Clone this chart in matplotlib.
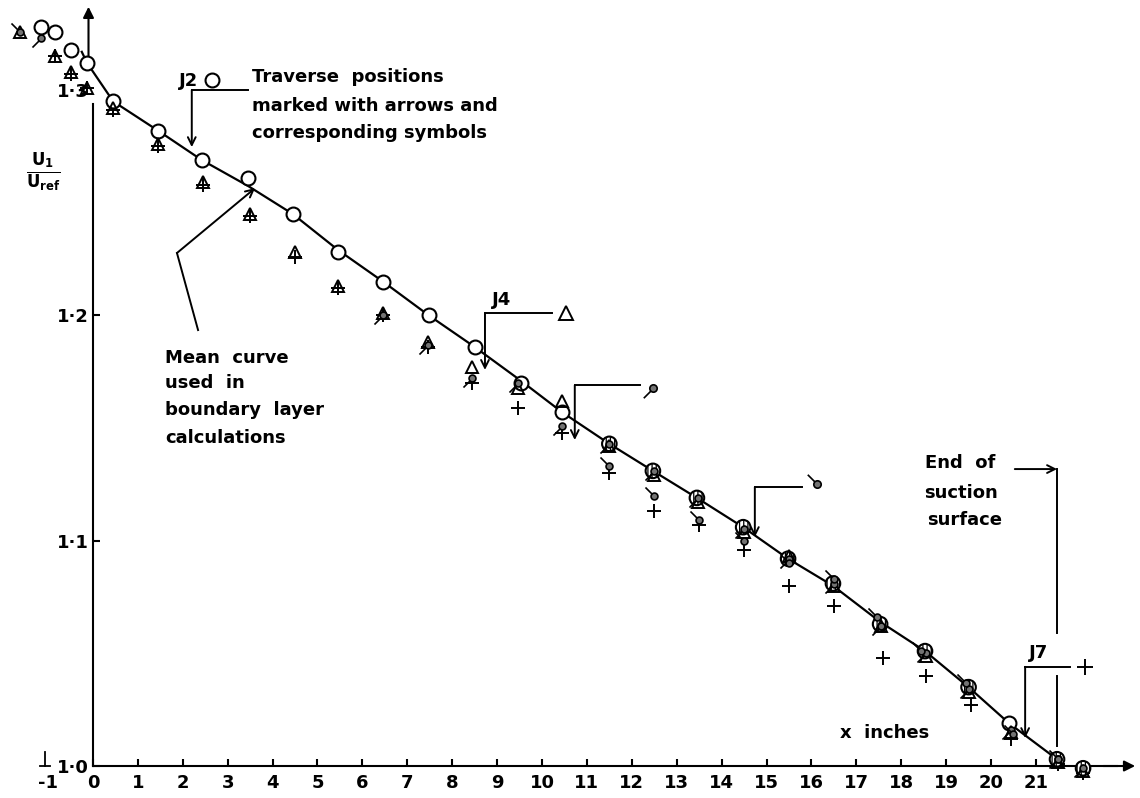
import matplotlib.pyplot as plt
from matplotlib.path import Path

# traverse J2 - open circles (the mean curve is drawn through these)
j2_x = [-1.15, -0.85, -0.5, -0.13, 0.45, 1.45, 2.42, 3.45, 4.45, 5.46, 6.46, 7.48, 8.5,
        9.53, 10.45, 11.5, 12.47, 13.45, 14.48, 15.48, 16.48, 17.53, 18.53, 19.5, 20.4,
        21.47, 22.05]
j2_y = [1.328, 1.326, 1.318, 1.312, 1.295, 1.282, 1.269, 1.261, 1.245, 1.228, 1.215, 1.200,
        1.186, 1.170, 1.157, 1.143, 1.131, 1.119, 1.106, 1.092, 1.081, 1.063, 1.051, 1.035,
        1.019, 1.003, 0.999]
# which J2 circles are drawn over by the other traverses (look hatched)
j2_hatched = [False] * 15 + [True] * 9 + [False, True, True]

# traverse J4 - triangles
j4_x = [-1.62, -0.85, -0.5, -0.13, 0.45, 1.45, 2.45, 3.5, 4.5, 5.45, 6.45, 7.45, 8.45,
        9.47, 10.45, 11.5, 12.5, 13.47, 14.5, 15.5, 16.5, 17.55, 18.55, 19.5, 20.45,
        21.5, 22.05]
j4_y = [1.326, 1.315, 1.308, 1.301, 1.292, 1.276, 1.259, 1.245, 1.228, 1.213, 1.201, 1.188,
        1.177, 1.168, 1.162, 1.142, 1.129, 1.117, 1.104, 1.093, 1.080, 1.062, 1.049, 1.033,
        1.015, 1.002, 0.998]

# traverse J5 - hatched circle, tail down-left
j5_x = [-1.15, 6.45, 7.45, 8.45, 9.47, 10.45, 11.5, 12.5, 13.47, 14.5, 15.5, 16.5, 17.55,
        18.55, 19.5, 20.45, 21.5, 22.05]
j5_y = [1.323, 1.200, 1.187, 1.172, 1.170, 1.151, 1.143, 1.131, 1.119, 1.105, 1.092, 1.081,
        1.062, 1.050, 1.034, 1.016, 1.003, 0.999]

# traverse J6 - hatched circle, tail up-left
j6_x = [-1.62, 11.5, 12.5, 13.5, 14.5, 15.5, 16.5, 17.45, 18.45, 19.45, 20.5, 21.5]
j6_y = [1.326, 1.133, 1.120, 1.109, 1.100, 1.090, 1.083, 1.066, 1.051, 1.037, 1.014, 1.003]

# traverse J7 - plus signs
j7_x = [-0.85, -0.5, -0.13, 0.45, 1.45, 2.45, 3.5, 4.5, 5.45, 6.45, 7.45, 8.45, 9.47, 10.45,
        11.5, 12.5, 13.5, 14.5, 15.5, 16.5, 17.6, 18.55, 19.55, 20.45, 21.5, 22.05]
j7_y = [1.315, 1.307, 1.301, 1.291, 1.275, 1.258, 1.244, 1.226, 1.212, 1.200, 1.186, 1.170,
        1.159, 1.148, 1.130, 1.113, 1.107, 1.096, 1.080, 1.071, 1.048, 1.040, 1.027, 1.012,
        1.001, 0.997]

# mean curve used in boundary layer calculations
curve_x = [-0.25, -0.13, 0.45, 1.45, 2.42, 3.45, 4.45, 5.46, 6.46, 7.48, 8.5, 9.53, 10.45,
           11.5, 12.47, 13.45, 14.48, 15.48, 16.48, 17.53, 18.53, 19.5, 20.4, 21.47]
curve_y = [1.317, 1.312, 1.295, 1.282, 1.269, 1.2575, 1.245, 1.229, 1.215, 1.200, 1.186,
           1.171, 1.157, 1.143, 1.131, 1.119, 1.106, 1.092, 1.080, 1.064, 1.051, 1.035,
           1.019, 1.003]

# traverse key: corner of the bracket, end of the horizontal, arrow tip, symbol
keys = {
    'J2': dict(corner=(2.2, 1.300), end=3.45, tip=1.2747, sym=(2.65, 1.3045)),
    'J4': dict(corner=(8.73, 1.201), end=10.22, tip=1.1758, sym=(10.53, 1.201)),
    'J5': dict(corner=(10.73, 1.169), end=12.18, tip=1.1447, sym=(12.47, 1.168)),
    'J6': dict(corner=(14.74, 1.1238), end=15.79, tip=1.1016, sym=(16.12, 1.125)),
    'J7': dict(corner=(20.76, 1.044), end=21.76, tip=1.0124, sym=(22.09, 1.044)),
}

xticks = list(range(-1, 22))
yticks = [1.0, 1.1, 1.2, 1.3]
ylabels = ['1·0', '1·1', '1·2', '1·3']

plt.rcParams['font.family'] = ['DejaVu Sans']
plt.rcParams['font.weight'] = 'bold'
plt.rcParams['hatch.linewidth'] = 0.9


def tailed(up):
    circ = Path.circle((0, 0), 0.38)
    sgn = 1 if up else -1
    tail = Path([(-0.3, 0.3 * sgn), (-1.0, 1.0 * sgn)], [Path.MOVETO, Path.LINETO])
    return Path.make_compound_path(circ, tail)


tail_down = tailed(False)
tail_up = tailed(True)

fig = plt.figure(figsize=(11.4, 7.98), dpi=100)
ax = fig.add_axes([0, 0, 1, 1])
ax.set_xlim(-2.071, 23.318)
ax.set_ylim(0.9858, 1.340)

# axes drawn like the original sketch
for s in ['top', 'right']:
    ax.spines[s].set_visible(False)
ax.spines['left'].set_position(('data', 0))
ax.spines['bottom'].set_position(('data', 1.0))
ax.spines['left'].set_bounds(1.0, 1.294)
ax.spines['bottom'].set_bounds(0, 22.8)
ax.spines['left'].set_linewidth(1.5)
ax.spines['bottom'].set_linewidth(1.5)
ax.set_xticks(xticks)
ax.set_xticklabels([str(t) for t in xticks], fontsize=13, fontweight='bold')
ax.set_yticks(yticks)
ax.set_yticklabels(ylabels, fontsize=13, fontweight='bold')
ax.tick_params(axis='x', direction='in', length=5, width=1.5, pad=6)
ax.tick_params(axis='y', direction='in', length=5, width=1.5, pad=3)
ax.yaxis.get_major_ticks()[3].tick1line.set_visible(False)
ax.xaxis.get_major_ticks()[0].tick1line.set_visible(False)
ax.plot([-1.18, -0.95], [1.0, 1.0], color='k', lw=1.3)
ax.plot([-1.07, -1.07], [1.0, 1.006], color='k', lw=1.3)

arr = dict(arrowstyle='-|>', color='k', lw=1.5, mutation_scale=16, shrinkA=0, shrinkB=0)
ax.annotate('', xy=(23.21, 1.0), xytext=(22.5, 1.0), arrowprops=arr)
ax.annotate('', xy=(-0.1, 1.337), xytext=(-0.1, 1.315), arrowprops=arr)

# mean curve
ax.plot(curve_x, curve_y, color='k', lw=1.6, zorder=2)

# data symbols
open_x = [x for x, h in zip(j2_x, j2_hatched) if not h]
open_y = [y for y, h in zip(j2_y, j2_hatched) if not h]
hat_x = [x for x, h in zip(j2_x, j2_hatched) if h]
hat_y = [y for y, h in zip(j2_y, j2_hatched) if h]
ax.plot(j7_x, j7_y, '+', color='k', ms=10, mew=1.4, ls='none', zorder=3)
ax.plot(j4_x, j4_y, '^', mfc='none', mec='k', ms=9, mew=1.4, ls='none', zorder=4)
ax.plot(open_x, open_y, 'o', mfc='white', mec='k', ms=10, mew=1.5, ls='none', zorder=3.5)
ax.scatter(hat_x, hat_y, s=110, facecolor='white', edgecolor='k',
           linewidths=1.5, hatch='||||', zorder=3.5)
ax.plot(j5_x, j5_y, marker=tail_down, mfc='0.45', mec='k', ms=13, mew=1.2, ls='none', zorder=5)
ax.plot(j6_x, j6_y, marker=tail_up, mfc='0.45', mec='k', ms=13, mew=1.2, ls='none', zorder=5)

# traverse position brackets
arr2 = dict(arrowstyle='->', color='k', lw=1.4, mutation_scale=14, shrinkA=0, shrinkB=0)
for name, k in keys.items():
    cx, cy = k['corner']
    ax.plot([cx, k['end']], [cy, cy], color='k', lw=1.4)
    ax.annotate('', xy=(cx, k['tip']), xytext=(cx, cy), arrowprops=arr2)
sx, sy = keys['J2']['sym']
ax.plot(sx, sy, 'o', mfc='white', mec='k', ms=10, mew=1.5)
sx, sy = keys['J4']['sym']
ax.plot(sx, sy, '^', mfc='none', mec='k', ms=10, mew=1.4)
sx, sy = keys['J5']['sym']
ax.plot(sx, sy, marker=tail_down, mfc='0.45', mec='k', ms=14, mew=1.2)
sx, sy = keys['J6']['sym']
ax.plot(sx, sy, marker=tail_up, mfc='0.45', mec='k', ms=14, mew=1.2)
sx, sy = keys['J7']['sym']
ax.plot(sx, sy, '+', color='k', ms=11, mew=1.4)

tk = dict(fontsize=13, fontweight='bold', color='k')
ax.text(2.12, 1.304, 'J2', ha='center', va='center', **tk)
ax.text(9.11, 1.2068, 'J4', ha='center', va='center', **tk)
ax.text(21.05, 1.0502, 'J7', ha='center', va='center', **tk)
ax.text(3.54, 1.3058, 'Traverse  positions', va='center', **tk)
ax.text(3.54, 1.2929, 'marked with arrows and', va='center', **tk)
ax.text(3.54, 1.2810, 'corresponding symbols', va='center', **tk)
ax.text(18.53, 1.1345, 'End  of', va='center', **tk)
ax.text(18.51, 1.1212, 'suction', va='center', **tk)
ax.text(18.58, 1.1092, 'surface', va='center', **tk)
ax.text(16.64, 1.0146, 'x  inches', va='center', **tk)
ax.text(1.6, 1.1813, 'Mean  curve', va='center', **tk)
ax.text(1.6, 1.1698, 'used  in', va='center', **tk)
ax.text(1.6, 1.1578, 'boundary  layer', va='center', **tk)
ax.text(1.6, 1.1458, 'calculations', va='center', **tk)
ax.text(-1.1, 1.2635, r'$\mathbf{\frac{U_1}{U_{ref}}}$', ha='center', va='center', fontsize=17)

# end of suction surface marker
ax.annotate('', xy=(21.47, 1.1318), xytext=(20.53, 1.1318), arrowprops=arr2)
ax.plot([21.47, 21.47], [1.1318, 1.059], color='k', lw=1.4)
ax.plot([21.47, 21.47], [1.040, 1.009], color='k', lw=1.4)

# pointer to the mean curve
ax.plot([2.34, 1.87], [1.1935, 1.2277], color='k', lw=1.4)
ax.annotate('', xy=(3.61, 1.2565), xytext=(1.87, 1.2277), arrowprops=arr2)

fig.savefig('out.png', dpi=100)
